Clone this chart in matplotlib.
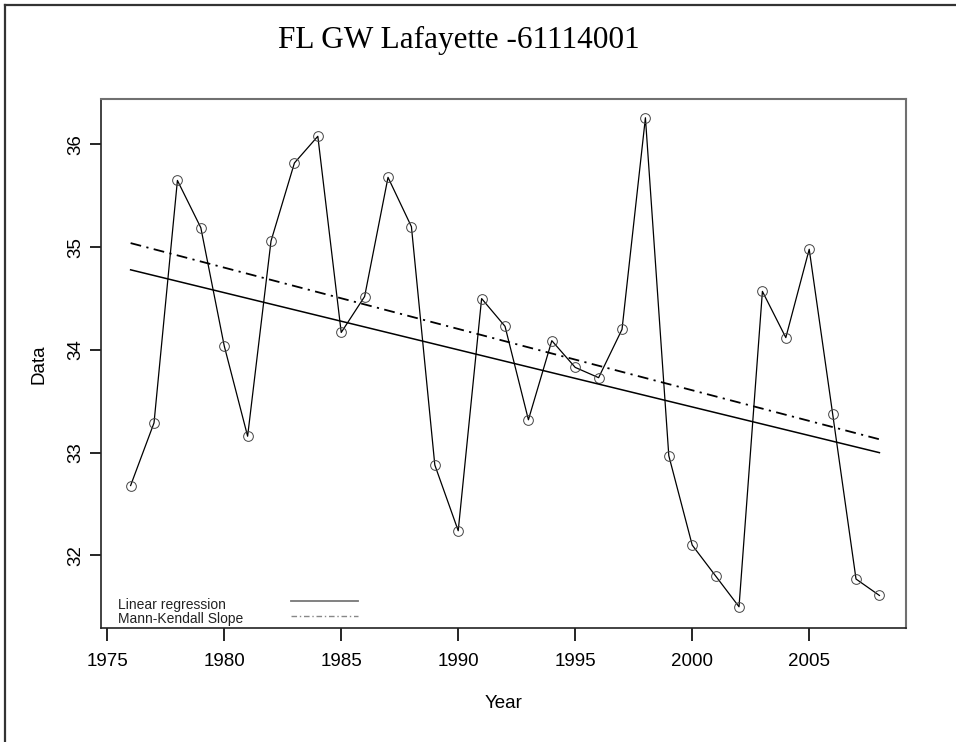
import matplotlib.pyplot as plt
from matplotlib.lines import Line2D

# valores
years = list(range(1976, 2009))
data = [32.68, 33.29, 35.65, 35.19, 34.04, 33.16, 35.06, 35.82, 36.08, 34.17,
        34.52, 35.68, 35.20, 32.88, 32.24, 34.50, 34.23, 33.32, 34.09, 33.83,
        33.73, 34.20, 36.26, 32.97, 32.10, 31.80, 31.50, 34.57, 34.12, 34.98,
        33.38, 31.77, 31.61]

trend_years = [1976, 2008]
lr_values = [34.78, 33.00]   # Linear regression
mk_values = [35.04, 33.13]   # Mann-Kendall Slope

xticks = [1975, 1980, 1985, 1990, 1995, 2000, 2005]
yticks = [32, 33, 34, 35, 36]

sans = ['Liberation Sans', 'DejaVu Sans']
serif = ['Liberation Serif', 'DejaVu Serif']

fig = plt.figure(figsize=(9.56, 7.42), dpi=100)
ax = fig.add_axes([0.1053, 0.1532, 0.842, 0.713])

# serie de datos con circulos abiertos
ax.plot(years, data, color='black', lw=0.9, marker='o', markersize=7,
        markerfacecolor='none', markeredgecolor='#444444', markeredgewidth=0.7)

# lineas de tendencia
ax.plot(trend_years, lr_values, color='black', lw=1.1)
ax.plot(trend_years, mk_values, color='black', lw=1.3, linestyle=(0, (6, 3, 1.2, 3)))

ax.set_xlim(1974.72, 2009.12)
ax.set_ylim(31.29, 36.44)
ax.set_xticks(xticks)
ax.set_yticks(yticks)
ax.set_xticklabels([str(t) for t in xticks], family=sans, fontsize=13.5)
ax.set_yticklabels([str(t) for t in yticks], family=sans, fontsize=13.5,
                   rotation=90, va='center')
ax.tick_params(axis='x', direction='out', length=9, width=1.2, pad=9, color='black')
ax.tick_params(axis='y', direction='out', length=8, width=1.2, pad=4, color='black')

for side in ['top', 'right']:
    ax.spines[side].set_color('#707070')
    ax.spines[side].set_linewidth(1.5)
for side in ['left', 'bottom']:
    ax.spines[side].set_color('#222222')
    ax.spines[side].set_linewidth(1.2)

ax.set_xlabel('Year', family=sans, fontsize=13.5, labelpad=18)
ax.set_ylabel('Data', family=sans, fontsize=13.5, labelpad=14)

# leyenda dibujada a mano (texto a la izquierda, muestra de linea a la derecha)
ax.text(0.021, 0.045, 'Linear regression', transform=ax.transAxes,
        family=sans, fontsize=10, va='center', ha='left', color='#222222')
ax.text(0.021, 0.018, 'Mann-Kendall Slope', transform=ax.transAxes,
        family=sans, fontsize=10, va='center', ha='left', color='#222222')
ax.add_line(Line2D([0.236, 0.320], [0.052, 0.052], transform=ax.transAxes,
                   color='#777777', lw=1.3))
ax.add_line(Line2D([0.236, 0.320], [0.024, 0.024], transform=ax.transAxes,
                   color='#888888', lw=1.0, linestyle=(0, (4, 2, 1, 2))))

# titulo
fig.text(459 / 956, 1 - 40 / 742, 'FL GW Lafayette -61114001', family=serif,
         fontsize=22.5, ha='center', va='center')

# marco de la figura (solo arriba e izquierda)
fig.add_artist(Line2D([5 / 956, 1], [1 - 5 / 742, 1 - 5 / 742],
                      transform=fig.transFigure, color='#333333', lw=1.6))
fig.add_artist(Line2D([5 / 956, 5 / 956], [0, 1 - 5 / 742],
                      transform=fig.transFigure, color='#333333', lw=1.6))

fig.savefig('out.png', dpi=100)
